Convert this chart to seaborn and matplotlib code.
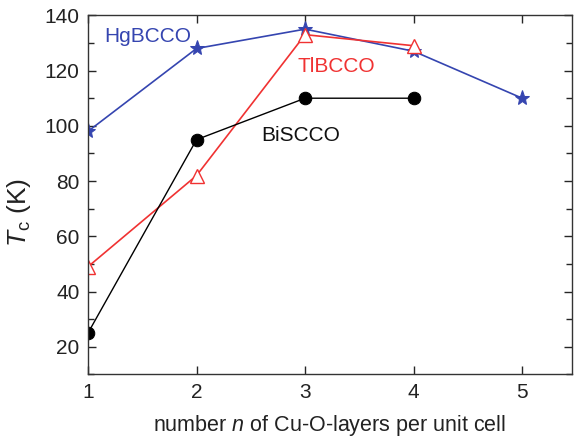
import matplotlib
matplotlib.use("Agg")
import matplotlib.pyplot as plt
import seaborn as sns
import pandas as pd

# Critical temperature vs number of Cu-O layers
n_layers = [1, 2, 3, 4, 5]
hg_tc = [98, 128, 135, 127, 110]
tl_n = [1, 2, 3, 4]
tl_tc = [49, 82, 133, 129]
bi_n = [1, 2, 3, 4]
bi_tc = [25, 95, 110, 110]

sns.set_style("ticks")
plt.rcParams["font.family"] = ["Liberation Sans", "DejaVu Sans"]
plt.rcParams["mathtext.fontset"] = "custom"
plt.rcParams["mathtext.it"] = "Liberation Sans:italic"
plt.rcParams["mathtext.rm"] = "Liberation Sans"

fig = plt.figure(figsize=(5.75, 4.38), dpi=100)
ax = fig.add_axes([0.153, 0.145, 0.842, 0.82])

blue = "#3545b0"
red = "#f03232"

hg = pd.DataFrame({"n": n_layers, "Tc": hg_tc})
tl = pd.DataFrame({"n": tl_n, "Tc": tl_tc})
bi = pd.DataFrame({"n": bi_n, "Tc": bi_tc})

sns.lineplot(data=hg, x="n", y="Tc", ax=ax, color=blue, lw=1.2,
             marker="*", markersize=11, markeredgecolor=blue, markerfacecolor=blue)
sns.lineplot(data=tl, x="n", y="Tc", ax=ax, color=red, lw=1.2,
             marker="^", markersize=10, markeredgecolor=red, markerfacecolor="white",
             markeredgewidth=1.0)
sns.lineplot(data=bi, x="n", y="Tc", ax=ax, color="black", lw=1.0,
             marker="o", markersize=9, markeredgecolor="black", markerfacecolor="black")

ax.text(1.15, 132.5, "HgBCCO", color=blue, fontsize=15, va="center")
ax.text(2.93, 121.5, "TlBCCO", color=red, fontsize=15, va="center")
ax.text(2.6, 96.5, "BiSCCO", color="#111111", fontsize=15, va="center")

ax.set_xlim(1, 5.46)
ax.set_ylim(10, 140)
ax.set_xticks([1, 2, 3, 4, 5])
ax.set_yticks([20, 40, 60, 80, 100, 120, 140])
ax.set_yticks(range(10, 141, 10), minor=True)
ax.tick_params(direction="in", top=True, right=True, labelsize=15, length=6,
               width=1, pad=6, labelcolor="#222222")
ax.tick_params(which="minor", direction="in", right=True, length=4, width=1)
for s in ax.spines.values():
    s.set_linewidth(1.0)
    s.set_color("#333333")

ax.set_xlabel("number $n$ of Cu-O-layers per unit cell", fontsize=15.5,
              labelpad=8, color="#222222")
ax.set_ylabel("$T_{\\mathrm{c}}$ (K)", fontsize=19, labelpad=8, color="#222222",
              y=0.45)

fig.savefig("out.png", dpi=100)
